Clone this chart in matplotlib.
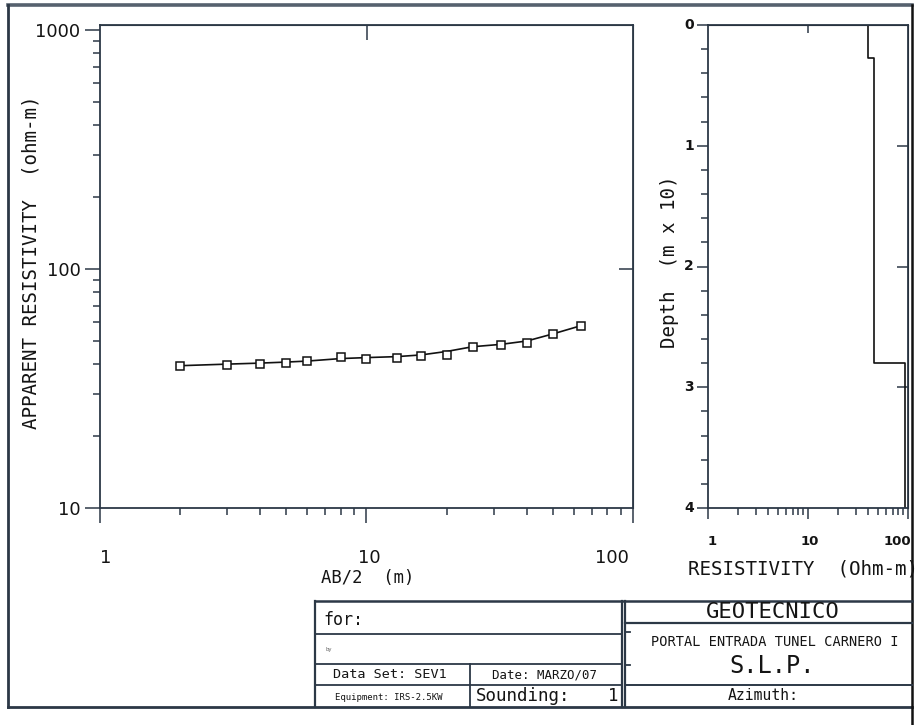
import matplotlib.pyplot as plt
from matplotlib.lines import Line2D
from matplotlib.ticker import FixedLocator, NullFormatter, NullLocator, MultipleLocator

# Sondeo electrico vertical SEV1
ab2 = [2, 3, 4, 5, 6, 8, 10, 13, 16, 20, 25, 32, 40, 50, 64]  # AB/2 (m)
rho_obs = [39.4, 39.8, 40.1, 40.5, 41.4, 42.7, 42.1, 42.5, 43.4, 43.5, 47.0, 47.9, 49.2, 53.5, 58.0]
rho_calc = [39.4, 40.0, 40.4, 40.8, 41.2, 42.2, 42.6, 43.0, 43.7, 45.2, 47.3, 48.4, 50.0, 53.5, 58.0]

# modelo de capas (resistividad en ohm-m, techo de capa en m x 10)
layer_rho = [40, 46, 93]
layer_top = [0, 0.27, 2.80]
depth_max = 4

LINE = '#2c3846'
TXT = '#141414'
MONO = 'DejaVu Sans Mono'

fig = plt.figure(figsize=(9.2, 7.25), dpi=100)
W, H = 920.0, 725.0


def fx(px):
    return px / W


def fy(py):
    return 1 - py / H


# ---------- curva de campo ----------
ax = fig.add_axes([fx(100), fy(508), fx(633) - fx(100), fy(25) - fy(508)])
ax.plot(ab2, rho_calc, color='#111111', lw=1.2, zorder=2)
ax.plot(ab2, rho_obs, ls='none', marker='s', ms=5.5, mfc='white', mec='#111111', mew=1.1, zorder=3)
ax.set_xscale('log')
ax.set_yscale('log')
ax.set_xlim(1, 100)
ax.set_ylim(10, 1050)

ax.xaxis.set_major_locator(FixedLocator([1, 10, 100]))
ax.xaxis.set_minor_locator(FixedLocator([2, 3, 4, 5, 6, 7, 8, 9, 20, 30, 40, 50, 60, 70, 80, 90]))
ax.xaxis.set_major_formatter(NullFormatter())
ax.xaxis.set_minor_formatter(NullFormatter())
ax.yaxis.set_major_locator(FixedLocator([10, 100, 1000]))
ax.yaxis.set_minor_locator(FixedLocator([20, 30, 40, 50, 60, 70, 80, 90, 200, 300, 400, 500, 600, 700, 800, 900]))
ax.yaxis.set_minor_formatter(NullFormatter())
ax.set_yticklabels(['10', '100', '1000'])
ax.tick_params(which='major', direction='out', length=11, width=1.1, color=LINE, labelsize=13, pad=3)
ax.tick_params(which='minor', direction='out', length=5, width=1.1, color=LINE)
for lab in ax.get_yticklabels():
    lab.set_color(TXT)
for sp in ax.spines.values():
    sp.set_color(LINE)
    sp.set_linewidth(1.3)

top = ax.secondary_xaxis('top')
top.xaxis.set_major_locator(FixedLocator([10]))
top.xaxis.set_minor_locator(NullLocator())
top.xaxis.set_major_formatter(NullFormatter())
top.tick_params(direction='in', length=11, width=1.1, color=LINE)
top.spines['top'].set_color(LINE)
right = ax.secondary_yaxis('right')
right.yaxis.set_major_locator(FixedLocator([100]))
right.yaxis.set_minor_locator(NullLocator())
right.yaxis.set_major_formatter(NullFormatter())
right.tick_params(direction='in', length=10, width=1.1, color=LINE)
right.spines['right'].set_color(LINE)

for xa, s in zip([0.011, 0.505, 0.96], ['1', '10', '100']):
    ax.text(xa, -0.103, s, transform=ax.transAxes, ha='center', va='center', fontsize=13, color=TXT)
ax.text(0.503, -0.145, 'AB/2  (m)', transform=ax.transAxes, ha='center', va='center',
        fontsize=12.4, family=MONO, color=TXT)
fig.text(fx(31), fy(262), 'APPARENT RESISTIVITY  (ohm-m)', rotation=90, ha='center', va='center',
         fontsize=13.8, family=MONO, color=TXT)

# ---------- modelo de capas ----------
bx = fig.add_axes([fx(708), fy(508), fx(908) - fx(708), fy(25) - fy(508)])
step_x, step_y = [], []
bottoms = layer_top[1:] + [depth_max]
for r, t, b in zip(layer_rho, layer_top, bottoms):
    step_x += [r, r]
    step_y += [t, b]
bx.plot(step_x, step_y, color='#111111', lw=1.2)
bx.set_xscale('log')
bx.set_xlim(1, 100)
bx.set_ylim(depth_max, 0)
bx.xaxis.set_major_locator(FixedLocator([1, 10, 100]))
bx.xaxis.set_minor_locator(FixedLocator([2, 3, 4, 5, 6, 7, 8, 9, 20, 30, 40, 50, 60, 70, 80, 90]))
bx.xaxis.set_major_formatter(NullFormatter())
bx.xaxis.set_minor_formatter(NullFormatter())
bx.yaxis.set_major_locator(MultipleLocator(1))
bx.yaxis.set_minor_locator(MultipleLocator(0.2))
bx.set_yticklabels([])
bx.tick_params(which='major', direction='out', length=8, width=1.1, color=LINE, pad=5)
bx.tick_params(which='minor', direction='out', length=5, width=1.1, color=LINE)
for sp in bx.spines.values():
    sp.set_color(LINE)
    sp.set_linewidth(1.3)
for d in range(depth_max + 1):
    bx.text(-0.095, d, str(d), transform=bx.get_yaxis_transform(), ha='center', va='center',
            fontsize=10, fontweight='bold', color=TXT)

btop = bx.secondary_xaxis('top')
btop.xaxis.set_major_locator(FixedLocator([10]))
btop.xaxis.set_minor_locator(NullLocator())
btop.xaxis.set_major_formatter(NullFormatter())
btop.tick_params(direction='in', length=6, width=1.1, color=LINE)
bright = bx.secondary_yaxis('right')
bright.yaxis.set_major_locator(FixedLocator([1, 2, 3]))
bright.yaxis.set_minor_locator(NullLocator())
bright.yaxis.set_major_formatter(NullFormatter())
bright.tick_params(direction='in', length=8, width=1.1, color=LINE)

for xa, s in zip([0.02, 0.51, 0.945], ['1', '10', '100']):
    bx.text(xa, -0.07, s, transform=bx.transAxes, ha='center', va='center',
            fontsize=9.5, fontweight='bold', color=TXT)
fig.text(fx(803), fy(569), 'RESISTIVITY  (Ohm-m)', ha='center', va='center',
         fontsize=13.8, family=MONO, color=TXT)
fig.text(fx(670), fy(262), 'Depth  (m x 10)', rotation=90, ha='center', va='center',
         fontsize=13.8, family=MONO, color=TXT)


# ---------- marco y cuadro de rotulos ----------
def hline(x0, x1, y, lw=1.3, c=LINE):
    fig.add_artist(Line2D([fx(x0), fx(x1)], [fy(y), fy(y)], color=c, lw=lw))


def vline(x, y0, y1, lw=1.3, c=LINE):
    fig.add_artist(Line2D([fx(x), fx(x)], [fy(y0), fy(y1)], color=c, lw=lw))


hline(8, 912, 5, lw=2.6, c='#56616e')
vline(8, 5, 707, lw=2.0)
hline(8, 912, 707, lw=2.0)
vline(912, 5, 725, lw=1.8, c='#111111')

hline(315, 912, 601, lw=1.8)
vline(315, 601, 707, lw=1.6)
vline(622, 601, 707, lw=1.6)
vline(625, 601, 707, lw=1.6)
hline(315, 622, 634)
hline(315, 622, 664)
hline(315, 622, 685)
vline(470, 664, 707)
hline(625, 912, 623, lw=1.6)
hline(625, 912, 685, lw=1.4)
hline(625, 630, 632)
hline(625, 630, 665)

fig.text(fx(323), fy(620), 'for:', ha='left', va='center', fontsize=12, family=MONO, color=TXT)
fig.text(fx(326), fy(649), 'by', ha='left', va='center', fontsize=4, family=MONO, color='#666666')
fig.text(fx(390), fy(675), 'Data Set: SEV1', ha='center', va='center', fontsize=9.7, family=MONO, color=TXT)
fig.text(fx(545), fy(675), 'Date: MARZO/07', ha='center', va='center', fontsize=8.9, family=MONO, color=TXT)
fig.text(fx(389), fy(697), 'Equipment: IRS-2.5KW', ha='center', va='center', fontsize=6.5, family=MONO, color=TXT)
fig.text(fx(476), fy(696), 'Sounding:', ha='left', va='center', fontsize=12.6, family=MONO, color=TXT)
fig.text(fx(613), fy(696), '1', ha='center', va='center', fontsize=12.6, family=MONO, color=TXT)
fig.text(fx(773), fy(612), 'GEOTECNICO', ha='center', va='center', fontsize=16, family=MONO, color=TXT)
fig.text(fx(775), fy(642), 'PORTAL ENTRADA TUNEL CARNERO I', ha='center', va='center', fontsize=9.8,
         family=MONO, color=TXT)
fig.text(fx(772), fy(666), 'S.L.P.', ha='center', va='center', fontsize=17, family=MONO, color=TXT)
fig.text(fx(763), fy(696), 'Azimuth:', ha='center', va='center', fontsize=10.6, family=MONO, color=TXT)

plt.savefig('out.png', dpi=100, facecolor='white')
